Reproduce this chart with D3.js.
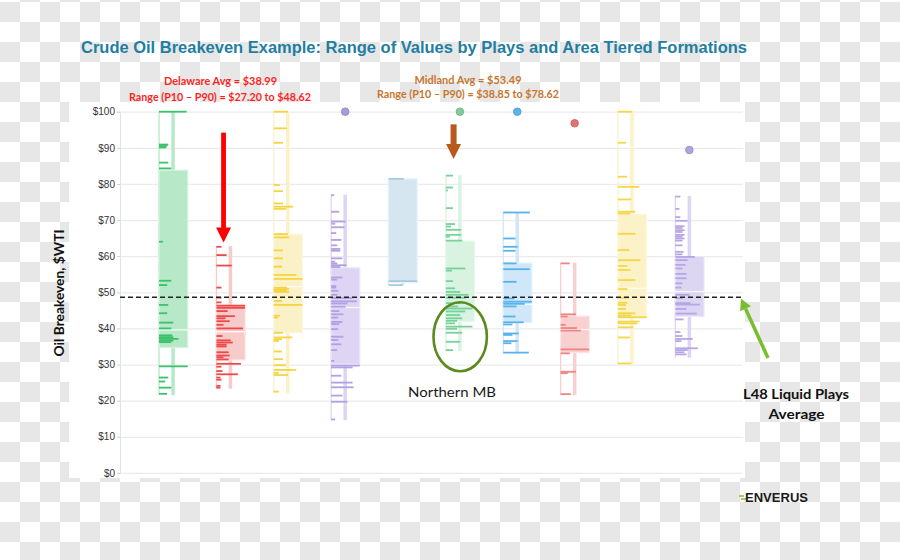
<!DOCTYPE html>
<html><head><meta charset="utf-8">
<script src="https://cdn.jsdelivr.net/npm/d3@7"></script>
<style>
html,body{margin:0;padding:0}
body{background:repeating-conic-gradient(#e7e7e7 0% 25%, #ffffff 0% 50%) 20px 2px / 40px 40px;width:900px;height:560px}
svg{display:block}
</style>
</head><body><svg id="c" width="900" height="560"></svg>
<script>
// ---------------- DATA ----------------
const plays = ["Play A","Delaware","Play C","Play D","Play E","Midland","Play G","Play H","Play I","Play J"];
const lows  = [21.5, 23.3, 22.0, 14.6, 52.0, 33.8, 33.1, 21.5, 30.1, 31.9];
const highs = [100, 62.8, 100, 77.0, 81.4, 82.4, 72.2, 58.2, 100, 76.7];
const q1s   = [34.7, 31.3, 38.8, 30.1, 52.7, 41.9, 41.6, 33.3, 42.9, 43.3];
const q3s   = [83.8, 46.4, 66.1, 56.8, 81.4, 64.2, 58.1, 43.4, 71.6, 59.9];
const means = [39.6, 39.1, 51.6, 45.8, null, null, 46.6, 39.7, 51.1, 50.2];
const outlierPlays  = ["Play D","Midland","Play G","Play H","Play J"];
const outlierValues = [100, 100, 100, 96.8, 89.4];
const l48Average = 48.62;
const yTickValues = [0,10,20,30,40,50,60,70,80,90,100];
// [breakeven $, relative well weight]
const pointsA = [[100,27],[90.9,9],[90.5,8],[90.1,7],[85.9,9],[84.3,12],[64,4],[53.2,12],[52,8],[46.5,9],[44.2,8],[41.6,14],[40,12],[38.1,13],[37.6,14],[37.1,19],[36.6,14],[36.2,12],[29.5,28],[26.4,9],[25.3,6],[23.6,12],[21.9,8]];
const pointsDelaware = [[62.6,5],[60.3,10],[57.4,15],[51.3,5],[48.5,5],[47.2,5],[46.3,28],[45.7,28],[44.8,11],[43.4,18],[42.8,9],[42,13],[41,7],[40,26],[37.9,6],[36.7,14],[36.1,16],[35.5,10],[35,10],[33.4,12],[32.5,13],[32,7],[31.4,12],[30.2,24],[29.4,5],[28.2,6],[27.3,21],[26.4,4],[25.8,5],[24.1,4],[23.6,4]];
const pointsC = [[100,14],[95.4,13],[91.4,9],[79.7,6],[78,9],[74.6,9],[73.7,19],[73.1,12],[66.1,14],[65.2,15],[61.6,9],[59.4,9],[57.1,8],[54.8,22],[53.7,28],[51.3,13],[50.9,15],[50.5,13],[50.1,15],[47.6,8],[46.5,28],[43.5,6],[43,4],[38.8,9],[37.5,18],[37,8],[36.5,5],[33.6,8],[31.5,9],[29.8,12],[28.5,22],[27.7,5],[27.1,14],[22.5,5]];
const pointsD = [[76.9,3],[72.3,8],[69.6,14],[69,4],[68,13],[66.4,5],[64.5,10],[63,6],[62,9],[61.5,9],[59.4,11],[58.5,4],[58,6],[57.5,15],[57,9],[54.1,11],[53.5,6],[51.7,5],[51.3,5],[50.4,7],[49.3,6],[48.4,21],[47.5,25],[46.9,16],[46,14],[44.8,8],[43.9,12],[43,7],[41.8,11],[41.2,8],[39.8,7],[37.7,12],[36.8,7],[35.6,10],[34,6],[31,3],[29.7,28],[29.2,21],[26.9,10],[25,21],[23.7,22],[21.4,11],[19.7,16],[14.8,4]];
const pointsE = [[81.4,15],[53.1,28],[52,14]];
const pointsMidland = [[82.3,7],[79,7],[78.2,2],[73.3,7],[68.9,9],[68.2,5],[67.3,15],[65.9,15],[65.4,4],[64.3,16],[56.6,19],[56,6],[53.1,7],[51.1,9],[50.1,14],[49.3,22],[48.5,19],[47,14],[46.1,12],[45.5,26],[44.7,19],[43.7,14],[42.8,16],[42.1,11],[41.4,9],[40.5,26],[39.9,11],[38.8,16],[36.3,14],[34,7]];
const pointsG = [[72.1,26],[64.9,12],[62.6,14],[61.5,12],[58,13],[56.4,26],[52.9,13],[48.3,11],[47.4,28],[46.8,21],[46.1,13],[43.3,12],[41.7,20],[41.1,9],[38.6,15],[38.2,9],[36.5,14],[35.9,8],[33.3,25]];
const pointsH = [[58,9],[43.9,15],[43.3,7],[41,5],[40.1,16],[39.4,20],[34.2,28],[33.1,9],[28,15],[27.6,7],[21.8,10]];
const pointsI = [[100,14],[91.4,8],[82,9],[79.2,21],[75.7,13],[72.3,17],[71.8,12],[66.2,17],[61.7,11],[58.9,22],[57.3,9],[56.2,12],[53.4,17],[50.9,9],[48.5,11],[47.1,9],[46.5,8],[45.4,8],[44.2,17],[43.6,13],[43.1,28],[41.9,21],[41.4,19],[40.3,15],[37.5,12],[30.3,13]];
const pointsJ = [[76.5,5],[73.1,4],[70.8,5],[69.8,12],[68.3,9],[67.8,7],[67.2,9],[66.7,7],[65.9,9],[65.4,7],[64.9,9],[64.3,7],[63,7],[61.2,8],[60.5,7],[59.8,19],[58.9,12],[57.6,10],[56.6,7],[55.1,11],[53.9,11],[52.5,7],[51.3,6],[49.3,14],[48.4,7],[47,15],[46.6,24],[45.4,11],[44.1,21],[42.5,8],[39,5],[37.9,7],[37.1,17],[36.5,6],[34.5,22],[34,12],[33.4,9],[32.8,11]];
const allPoints = [pointsA,pointsDelaware,pointsC,pointsD,pointsE,pointsMidland,pointsG,pointsH,pointsI,pointsJ];

// ---------------- STYLE ----------------
const tickColors = ["#3cc26b","#f04848","#f5d440","#b3a0e2","#a6cbe0","#76d297","#58b3ec","#f08484","#f5d646","#b6a6e4"];
const boxColors  = ["#b7e9c9","#f8cbcb","#fbf1c6","#ddd5f3","#d5e6f0","#d8f3e2","#cfe7f8","#f8d0d0","#fbf2c8","#ddd6f3"];
const dotColors  = {"Play D":"#a99bdc","Midland":"#7fce9a","Play G":"#5ab4ec","Play H":"#e57373","Play J":"#b0a4de"};

const svg = d3.select("#c");
svg.append("rect").attr("x",69).attr("y",102).attr("width",676).attr("height",376).attr("fill","#fff");

const x = d3.scaleBand().domain(plays).range([120,743]).paddingInner(0.5).paddingOuter(0.68);
const y = d3.scaleLinear().domain([0,100]).range([472.9,111.7]);
const bw = x.bandwidth();
const wScale = d3.scaleLinear().domain([0,28]).range([0,bw]);

// grid
const grid = svg.append("g").attr("transform","translate(120,0)")
  .call(d3.axisRight(y).tickValues(yTickValues).tickSize(623).tickFormat(""));
grid.select(".domain").remove();
grid.selectAll("line").attr("stroke","#ebebeb").attr("stroke-width",1.2);

// y axis
const ax = svg.append("g").attr("transform","translate(120,0)")
  .call(d3.axisLeft(y).tickValues(yTickValues).tickSize(3).tickPadding(2).tickFormat(d=>"$"+d));
ax.select(".domain").attr("stroke","#e2e2e2");
ax.selectAll(".tick line").attr("stroke","#cfcfcf");
ax.selectAll("text").attr("fill","#333").style("font-family","'Liberation Sans', Arial, sans-serif").style("font-size","10px");

// plays
plays.forEach((p,i)=>{
  const g = svg.append("g").attr("transform",`translate(${x(p)},0)`);
  const bc = boxColors[i], tc = tickColors[i];
  const cx = bw*0.49;
  g.append("rect").attr("x",cx-1.75).attr("width",3.5)
    .attr("y",y(highs[i])).attr("height",y(lows[i])-y(highs[i])).attr("fill",bc);
  g.append("rect").attr("x",-0.6).attr("width",1.3)
    .attr("y",y(highs[i])).attr("height",y(lows[i])-y(highs[i])).attr("fill",bc);
  g.append("rect").attr("x",0).attr("width",bw)
    .attr("y",y(q3s[i])).attr("height",y(q1s[i])-y(q3s[i]))
    .attr("fill",bc).attr("stroke",d3.interpolateRgb(bc,"#fff")(0.45)).attr("stroke-width",1.2);
  if(means[i]!=null){
    g.append("line").attr("x1",0).attr("x2",bw).attr("y1",y(means[i])).attr("y2",y(means[i]))
      .attr("stroke","#fff").attr("stroke-opacity",0.8).attr("stroke-width",1.3);
  }
  g.selectAll("line.pt").data(allPoints[i]).join("line").attr("class","pt")
    .attr("x1",0).attr("x2",d=>wScale(d[1])).attr("y1",d=>y(d[0])).attr("y2",d=>y(d[0]))
    .attr("stroke",tc).attr("stroke-width",1.8);
});

// average line
svg.append("line").attr("x1",120).attr("x2",742).attr("y1",y(l48Average)).attr("y2",y(l48Average))
  .attr("stroke","#222").attr("stroke-width",1.4).attr("stroke-dasharray","5,3");

// outliers
svg.selectAll("circle.out").data(outlierPlays).join("circle").attr("class","out")
  .attr("cx",p=>x(p)+bw*0.49).attr("cy",(p,i)=>y(outlierValues[i])).attr("r",3.8)
  .attr("fill",p=>dotColors[p]).attr("stroke",p=>d3.color(dotColors[p]).darker(0.5)).attr("stroke-width",0.8);

// title
svg.append("text").attr("x",414).attr("y",52.5).attr("text-anchor","middle")
  .attr("textLength",666).attr("lengthAdjust","spacingAndGlyphs")
  .style("font-family","'Liberation Sans', Arial, sans-serif").style("font-weight","bold").style("font-size","16px")
  .attr("fill","#1f7ea1")
  .text("Crude Oil Breakeven Example: Range of Values by Plays and Area Tiered Formations");

// annotations
function label(t,cx,by,len,color,size,weight){
  svg.append("text").attr("x",cx).attr("y",by).attr("text-anchor","middle")
    .attr("textLength",len).attr("lengthAdjust","spacingAndGlyphs")
    .style("font-family","Lato, 'Open Sans', sans-serif").style("font-weight",weight).style("font-size",size+"px")
    .attr("fill",color).text(t);
}
label("Delaware Avg = $38.99",220.5,85,113,"#ff1f1f",12,"bold");
label("Range (P10 – P90) = $27.20 to $48.62",220,100.5,182,"#ff1f1f",12,"bold");
label("Midland Avg = $53.49",468,83.5,107,"#c8752e",12,"bold");
label("Range (P10 – P90) = $38.85 to $78.62",468,98,182,"#c8752e",12,"bold");
label("Northern MB",452,397,88,"#1a1a1a",14,"normal");
label("L48 Liquid Plays",796,399,106,"#111",14,"bold");
label("Average",796.5,419,56,"#111",14,"bold");

// y title
svg.append("text").attr("transform","translate(59,293) rotate(-90)").attr("text-anchor","middle")
  .attr("dy","0.35em")
  .attr("textLength",127).attr("lengthAdjust","spacingAndGlyphs")
  .style("font-family","Lato, 'Open Sans', sans-serif").style("font-weight","bold").style("font-size","14px")
  .attr("fill","#111").text("Oil Breakeven, $WTI");

// arrows
function downArrow(play, frac, vTop, vTip, color, shaftW, headW, headL){
  const ax0 = x(play)+bw*frac, yt = y(vTop), yp = y(vTip);
  svg.append("rect").attr("x",ax0-shaftW/2).attr("y",yt).attr("width",shaftW).attr("height",yp-headL-yt+0.5).attr("fill",color);
  svg.append("path").attr("d",`M${ax0-headW/2},${yp-headL} L${ax0+headW/2},${yp-headL} L${ax0},${yp} Z`).attr("fill",color);
}
downArrow("Delaware",0.25,94.2,63.8,"#ff0000",4.8,15,15);
downArrow("Midland",0.27,96.5,86.9,"#b85a1c",6,15,15);

// ellipse
svg.append("ellipse").attr("cx",x("Midland")+bw*0.5).attr("cy",y(37.7)).attr("rx",26.7).attr("ry",34.5)
  .attr("fill","none").attr("stroke","#5b8a1d").attr("stroke-width",2.6);

// green arrow to average line
(function(){
  const tip=[741,y(l48Average)+1.5], tail=[768,358];
  const dx=tip[0]-tail[0], dy=tip[1]-tail[1], L=Math.hypot(dx,dy), ux=dx/L, uy=dy/L;
  const hl=11, hw=6;
  const bx=tip[0]-ux*hl, by=tip[1]-uy*hl;
  svg.append("line").attr("x1",tail[0]).attr("y1",tail[1]).attr("x2",bx).attr("y2",by)
    .attr("stroke","#78be2f").attr("stroke-width",3.5);
  svg.append("path").attr("d",`M${tip[0]},${tip[1]} L${bx-uy*hw},${by+ux*hw} L${bx+uy*hw},${by-ux*hw} Z`).attr("fill","#78be2f");
})();

// logo
svg.append("line").attr("x1",739).attr("x2",744).attr("y1",496).attr("y2",496).attr("stroke","#7dc030").attr("stroke-width",1.5);
svg.append("line").attr("x1",741).attr("x2",746).attr("y1",499).attr("y2",499).attr("stroke","#7dc030").attr("stroke-width",1.5);
svg.append("text").attr("x",745).attr("y",501.5).attr("textLength",63).attr("lengthAdjust","spacingAndGlyphs")
  .style("font-family","'Liberation Sans', Arial, sans-serif").style("font-weight","bold").style("font-size","12.5px")
  .attr("fill","#1a1a1a").text("ENVERUS");
</script></body></html>
